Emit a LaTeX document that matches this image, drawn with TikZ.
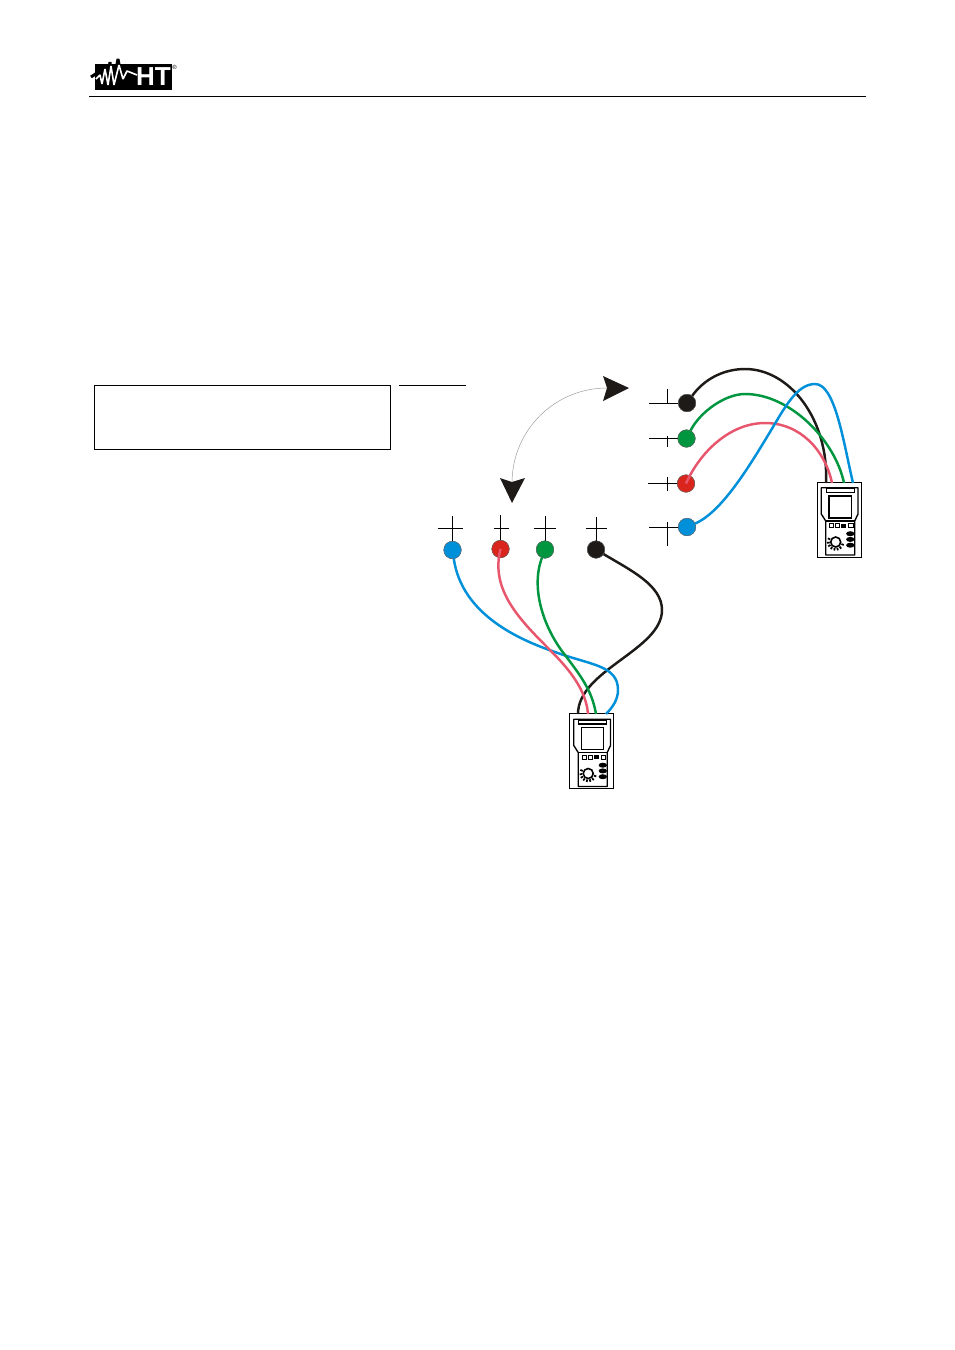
\documentclass[tikz,border=0pt]{standalone}
\usepackage{fontspec}
\setmainfont{Liberation Sans}
\definecolor{wblack}{HTML}{1D1A18}
\definecolor{wgreen}{HTML}{009640}
\definecolor{wblue}{HTML}{0090DA}
\definecolor{wpink}{HTML}{E8566E}
\definecolor{wred}{HTML}{DA251D}
\tikzset{
  termdot/.style={circle,draw=black!60,line width=.3pt,inner sep=0pt,minimum size=17.5*.75pt},
  wire/.style={line width=1.85pt},
  tick/.style={line width=.6pt,draw=black},
  head/.style={fill=wblack,draw=none},
  devline/.style={draw=black,line width=1pt},
  pics/meter/.style={code={
    \draw[line width=.6pt,fill=white] (0,0) rectangle (44,75);
    \draw[devline,line join=round] (4.3,5.7)--(41,5.7)--(41,32)--(37.7,39)--(37.7,73)--(8.7,73)--(8.7,39)--(4.3,32)--cycle;
    \draw[line width=.8pt,fill=white] (9.3,6.8) rectangle (37.2,10.5);
    \draw[line width=.9pt] (12,14) rectangle (34.3,36);
    \draw[line width=.9pt] (8.7,39)--(37.7,39);
    \draw[line width=.7pt] (12.7,41.7) rectangle (16.7,45.7);
    \draw[line width=.7pt] (18.7,41.7) rectangle (22.7,45.7);
    \fill (24.3,41.5) rectangle (29.3,45.9);
    \draw[line width=.7pt] (31.7,41.7) rectangle (36,45.7);
    \draw[line width=1.2pt] (18.7,60) circle (5);
    \foreach \a in {20,50,75,100,125,150,175,205}
      \draw[line width=1.3pt] (18.7,60)++(\a:6) -- ++(\a:2.6);
    \foreach \y in {51.7,57.4,63.2}
      \fill (33.3,\y) ellipse (4.2 and 2.5);
  }}
}
\begin{document}
\begin{tikzpicture}[x=.75pt,y=-.75pt]
\useasboundingbox (0,0) rectangle (954,1350);
% header
\draw[line width=.6pt] (89,96.5)--(866,96.5);
\fill (95,64) rectangle (172,89.5);
\draw[line width=2.2pt,line join=bevel] (91,77)--(97,73)--(100,82)--(103,67)--(106,85)--(110,62)--(113,85)--(118,59)--(122,79)--(126,68)--(130,74);
\draw[white,line width=1.2pt,line join=bevel] (96,79)--(100,75)--(102,84)--(105,69)--(108,85)--(111,66)--(114,85)--(119,65)--(123,79)--(127,71)--(137,75);
\node[white,inner sep=0pt,anchor=center,font=\bfseries,scale=1.95] (logo) at (153.5,76.5) {HT};
\node[inner sep=0pt,font=\fontsize{4.5pt}{5pt}\selectfont] (reg) at (174.5,67.5) {®};
% box and line
\node[draw=black,line width=.6pt,minimum width=222pt,minimum height=48pt,inner sep=0pt] (box) at (242,417) {};
\coordinate (ruleA) at (399,385);
\coordinate (ruleB) at (466,385);
\draw[line width=.6pt] (ruleA)--(ruleB);
% meters
\pic (mr) at (817,482) {meter};
\pic (mb) at (569.5,713.5) {meter};
\coordinate (rk) at (826,483);
\coordinate (rp) at (832,483);
\coordinate (rg) at (844,483);
\coordinate (rb) at (853,483);
\coordinate (bk) at (578,714);
\coordinate (bp) at (588,714);
\coordinate (bg) at (596,714);
\coordinate (bb) at (606,714);
% terminals
\node[termdot,fill=wblack] (Rk) at (687,403) {};
\node[termdot,fill=wgreen] (Rg) at (686.5,438.5) {};
\node[termdot,fill=wred]   (Rr) at (686,483.5) {};
\node[termdot,fill=wblue]  (Rb) at (687,527) {};
\node[termdot,fill=wblue]  (Bb) at (452.5,550) {};
\node[termdot,fill=wred]   (Br) at (500.5,549) {};
\node[termdot,fill=wgreen] (Bg) at (545,549.5) {};
\node[termdot,fill=wblack] (Bk) at (596,549.5) {};
% ticks
\foreach \n/\xa/\xb/\ya/\yb in {Rk/649/667/389/404,Rg/649/667/436/447,Rr/648/667/477/491,Rb/649/667/522/546}{
  \path (\n.center) coordinate (t);
  \draw[tick] (\xa,0 |- t)--(t);
  \draw[tick] (\xb,\ya)--(\xb,\yb);
}
\foreach \n/\xa/\xb/\ya in {Bb/438/463/516,Br/494/509/515,Bg/534/556/516,Bk/586/607/517}{
  \draw[tick] (\n.center |- 0,\ya)--(\n.center);
  \draw[tick] (\xa,528.5)--(\xb,528.5);
}
% redraw terminals over ticks
\foreach \n/\c in {Rk/wblack,Rg/wgreen,Rr/wred,Rb/wblue,Bb/wblue,Br/wred,Bg/wgreen,Bk/wblack}
  \node[termdot,fill=\c] at (\n.center) {};
% wires
\draw[wire,wblack] (Rk) .. controls (705,378) and (725,369) .. (745,369) .. controls (790,369) and (829,420) .. (rk);
\draw[wire,wgreen] (Rg) .. controls (700,412) and (725,394) .. (745,394) .. controls (790,394) and (835,440) .. (rg);
\draw[wire,wpink] (Rr.center) .. controls (700,452) and (730,423) .. (765,423) .. controls (800,423) and (825,450) .. (rp);
\draw[wire,wblue] (Rb) .. controls (722,512) and (750,465) .. (770,432) .. controls (785,407) and (797,384) .. (815,384) .. controls (835,384) and (843,440) .. (rb);
\draw[wire,wblack] (Bk) .. controls (630,570) and (662,585) .. (662,610) .. controls (662,650) and (578,670) .. (bk);
\draw[wire,wblue] (Bb) .. controls (462,615) and (520,640) .. (555,652) .. controls (590,665) and (618,665) .. (618,690) .. controls (618,700) and (612,708) .. (bb);
\draw[wire,wpink] (Br.center) .. controls (490,590) and (520,620) .. (550,650) .. controls (570,670) and (586,690) .. (bp);
\draw[wire,wgreen] (Bg) .. controls (530,590) and (545,630) .. (565,655) .. controls (580,675) and (592,690) .. (bg);
% rotation arrow
\coordinate (arrA) at (512,483);
\coordinate (arrB) at (607,388);
\draw[line width=.35pt,black!40] (arrA) .. controls (512,430) and (555,388) .. (arrB);
\fill[head] (629,388)--(603,376)--(607,388)--(603,401)--cycle;
\fill[head] (512,503)--(500,478)--(512,482)--(525,478)--cycle;
\end{tikzpicture}
\end{document}
